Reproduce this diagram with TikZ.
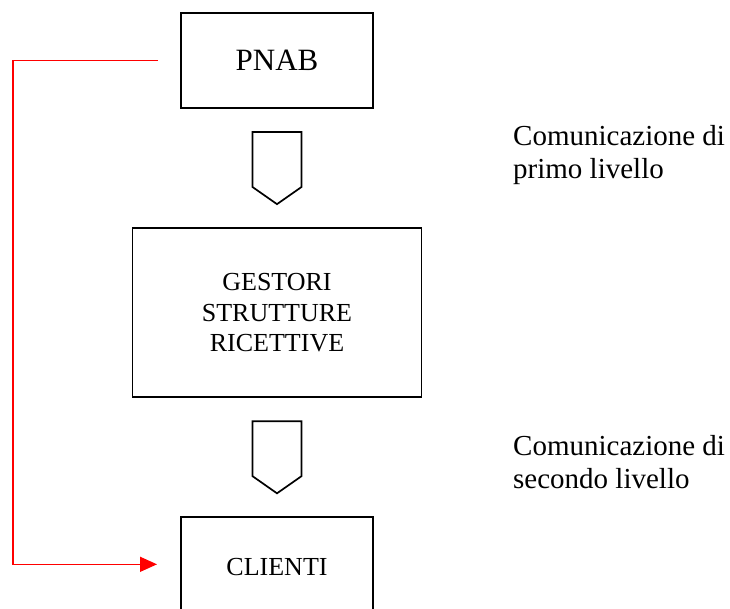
\documentclass[tikz,border=0pt]{standalone}
\usepackage{fontspec}
\setmainfont{Liberation Serif}
\usetikzlibrary{arrows.meta,positioning,shapes.symbols}

\begin{document}
\begin{tikzpicture}[
  x=1pt, y=-1pt,
  node distance=24pt,
  blocco/.style={draw, line width=1.7pt, minimum width=192pt, align=center, inner sep=0pt,
    outer sep=0pt, font=\fontsize{26}{30.5}\selectfont},
  freccia/.style={draw, line width=1.7pt, signal, signal to=south, signal from=nothing,
    signal pointer angle=110, minimum width=49pt, minimum height=55pt, inner sep=0pt, outer sep=0pt},
  nota/.style={anchor=north west, align=left, inner sep=0pt, font=\fontsize{29}{33}\selectfont},
  ritorno/.style={draw=red, line width=1.5pt, -{Triangle[length=17pt,width=15pt]}},
]
  \useasboundingbox (0,0) rectangle (730,608);
  \clip (0,0) rectangle (730,608);

  \node[blocco, minimum height=95pt, font=\fontsize{31}{36}\selectfont] (pnab) at (277,60.5) {PNAB};
  \node[freccia, below=of pnab] (arrA) {};
  \node[blocco, minimum width=289pt, minimum height=169pt, below=of arrA] (gestori) {GESTORI\\STRUTTURE\\RICETTIVE};
  \node[freccia, below=of gestori] (arrB) {};
  \node[blocco, minimum height=100pt, below=of arrB] (clienti) {CLIENTI};

  \node[nota] (nota1) at (513,125) {Comunicazione di\\primo livello};
  \node[nota] (nota2) at (513,435) {Comunicazione di\\secondo livello};

  % linea di ritorno
  \coordinate (da) at ([xshift=-23pt]pnab.west);
  \coordinate (a) at ([xshift=-24pt,yshift=3pt]clienti.west);
  \draw[ritorno] (da) -- ++(-145,0) |- (a);
\end{tikzpicture}
\end{document}
